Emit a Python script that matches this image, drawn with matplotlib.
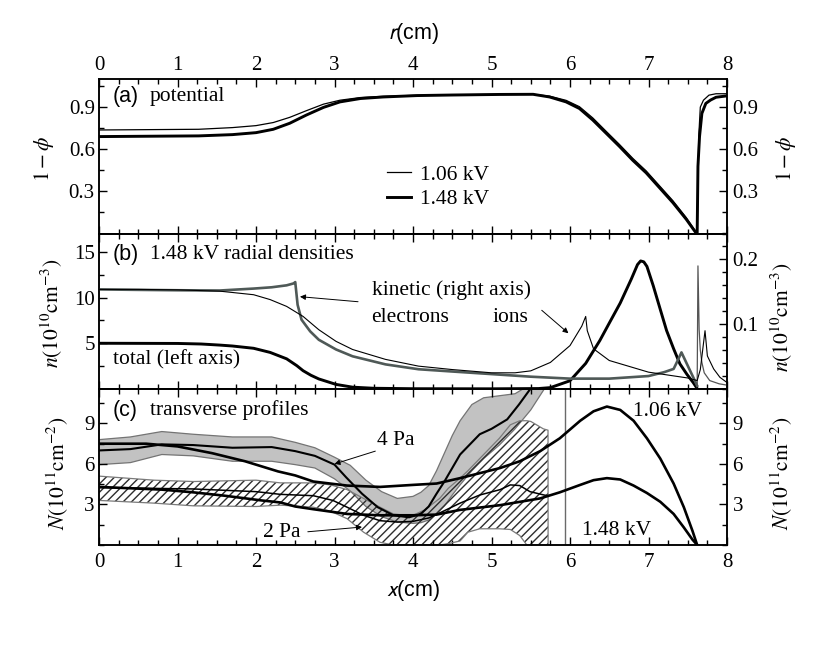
import matplotlib
matplotlib.use('Agg')
import matplotlib.pyplot as plt
from matplotlib.ticker import MultipleLocator, FixedLocator

plt.rcParams['font.family'] = ['Liberation Serif', 'DejaVu Serif']
plt.rcParams['mathtext.fontset'] = 'stix'
plt.rcParams['axes.linewidth'] = 1.1
plt.rcParams['hatch.linewidth'] = 1.0

# ---------------- panel (a): potential ----------------
pa_x_106 = [0, 1.27, 1.7, 2.0, 2.22, 2.43, 2.64, 2.86, 3.07, 3.33, 3.62, 4.05, 4.5, 5.1, 5.53,
            5.74, 5.95, 6.12, 6.29, 6.46, 6.63, 6.8, 6.97, 7.14, 7.31, 7.48, 7.6, 7.62,
            7.63, 7.64, 7.66, 7.7, 7.77, 7.86, 8.0]
pa_y_106 = [0.737, 0.742, 0.754, 0.768, 0.79, 0.827, 0.874, 0.921, 0.949, 0.968, 0.977, 0.984, 0.988, 0.99, 0.991,
            0.978, 0.948, 0.903, 0.823, 0.728, 0.634, 0.535, 0.446, 0.34, 0.234, 0.114, 0.016, 0.0,
            0.35, 0.69, 0.9, 0.949, 0.985, 0.995, 0.995]
pa_x_148 = [0, 1.27, 1.7, 2.0, 2.22, 2.43, 2.64, 2.86, 3.07, 3.33, 3.62, 4.05, 4.5, 5.1, 5.53,
            5.74, 5.95, 6.12, 6.29, 6.46, 6.63, 6.8, 6.97, 7.14, 7.31, 7.48, 7.6, 7.62,
            7.63, 7.65, 7.68, 7.73, 7.79, 7.86, 8.0]
pa_y_148 = [0.69, 0.695, 0.704, 0.718, 0.742, 0.785, 0.843, 0.898, 0.937, 0.961, 0.972, 0.982, 0.986, 0.99, 0.991,
            0.972, 0.937, 0.89, 0.808, 0.714, 0.62, 0.521, 0.432, 0.326, 0.22, 0.102, 0.008, 0.0,
            0.478, 0.69, 0.855, 0.926, 0.95, 0.97, 0.98]
pa_labels = ['1.06 kV', '1.48 kV']

# ---------------- panel (b): radial densities ----------------
pb_x_tot = [0, 1.0, 1.3, 1.54, 1.7, 1.97, 2.18, 2.39, 2.52, 2.6, 2.7, 2.8, 3.02, 3.23, 3.5, 4.0, 5.0,
            5.6, 5.75, 6.0, 6.2, 6.38, 6.5, 6.64, 6.78, 6.86, 6.9, 6.94, 6.98, 7.06, 7.15, 7.23, 7.32, 7.4, 7.49, 7.57, 7.62]
pb_y_tot = [5.0, 4.98, 4.92, 4.8, 4.7, 4.45, 4.0, 3.3, 2.55, 2.0, 1.5, 1.1, 0.5, 0.2, 0.08, 0.03, 0.02,
            0.05, 0.15, 0.9, 2.8, 5.3, 7.2, 9.4, 12.0, 13.6, 14.0, 13.9, 13.4, 11.3, 8.7, 6.4, 4.4, 2.75, 1.6, 0.7, 0.05]
pb_x_el = [0, 0.5, 1.0, 1.54, 1.97, 2.2, 2.39, 2.48, 2.5, 2.53, 2.58, 2.69, 2.8, 3.02, 3.23, 3.65, 4.07,
           4.5, 5.0, 5.5, 6.0, 6.5, 7.0, 7.2, 7.32, 7.36, 7.42, 7.49, 7.57, 7.62]
pb_y_el = [0.1537, 0.153, 0.1524, 0.152, 0.155, 0.157, 0.16, 0.163, 0.165, 0.130, 0.107, 0.089, 0.076, 0.061, 0.0505, 0.038, 0.0305,
           0.027, 0.023, 0.019, 0.016, 0.016, 0.02, 0.026, 0.031, 0.041, 0.0565, 0.0385, 0.018, 0.005]
pb_x_el_spike = [7.62, 7.63, 7.645, 7.66, 7.68, 7.71, 7.78, 7.9, 8.0]
pb_y_el_spike = [0.005, 0.19, 0.092, 0.06, 0.041, 0.025, 0.013, 0.008, 0.006]
pb_x_ion = [0, 0.5, 1.0, 1.54, 1.97, 2.18, 2.39, 2.6, 2.8, 3.02, 3.23, 3.65, 4.07, 4.5, 5.0, 5.3, 5.5,
            5.75, 6.0, 6.15, 6.2, 6.22, 6.3, 6.5, 7.0, 7.5, 7.62, 7.66, 7.7, 7.72, 7.75, 7.83, 7.91, 8.0]
pb_y_ion = [0.1537, 0.1537, 0.153, 0.151, 0.1455, 0.138, 0.1275, 0.112, 0.0915, 0.0735, 0.061, 0.0457, 0.0353, 0.030, 0.025, 0.025, 0.028,
            0.041, 0.067, 0.097, 0.112, 0.09, 0.062, 0.044, 0.026, 0.017, 0.013, 0.03, 0.07, 0.09, 0.051, 0.031, 0.018, 0.01]

# ---------------- panel (c): transverse profiles ----------------
pc_x_4pa = [0, 0.4, 0.8, 1.2, 1.7, 2.2, 2.5, 2.75, 3.0, 3.2, 3.4, 3.6, 3.8, 4.0, 4.1, 4.2, 4.3, 4.4, 4.5,
            4.6, 4.75, 4.9, 5.1, 5.3, 5.5, 5.7]
pc_4pa_hi = [7.8, 8.0, 8.4, 8.2, 8.0, 8.0, 7.6, 7.2, 6.5, 5.9, 4.8, 3.95, 3.45, 3.6, 3.9, 4.4, 5.5, 6.8, 8.1,
             9.2, 10.4, 10.9, 11.05, 11.2, 11.9, 13.0]
pc_4pa_lo = [5.95, 6.1, 6.7, 6.6, 6.2, 6.2, 5.95, 5.7, 4.9, 4.0, 2.85, 2.1, 1.7, 1.6, 1.65, 1.85, 2.3, 2.9, 3.7,
             4.45, 5.5, 6.4, 7.4, 8.6, 10.0, 11.8]
pc_x_4pa_c = [0, 0.4, 0.8, 1.2, 1.7, 2.2, 2.5, 2.75, 3.0, 3.15, 3.35, 3.55, 3.75, 3.95, 4.1, 4.2, 4.3, 4.4,
              4.5, 4.6, 4.75, 4.85, 5.0, 5.1, 5.2, 5.35, 5.45, 5.55]
pc_4pa_c = [7.0, 7.1, 7.45, 7.4, 7.2, 7.25, 6.95, 6.6, 5.95, 5.0, 3.8, 2.8, 2.2, 2.05, 2.3, 2.85, 3.8, 4.7,
            5.7, 6.7, 7.6, 8.2, 8.6, 8.95, 9.3, 10.4, 11.2, 12.0]
pc_x_2pa = [0, 0.7, 1.2, 2.0, 2.31, 2.73, 2.95, 3.16, 3.37, 3.58, 3.75, 3.9, 4.0, 4.15, 4.34, 4.45, 4.6,
            4.7, 4.85, 5.1, 5.24, 5.36, 5.45, 5.5, 5.66, 5.72, 5.721]
pc_2pa_hi = [5.1, 4.8, 4.7, 4.8, 4.6, 4.6, 4.45, 4.1, 3.45, 2.8, 2.3, 2.2, 2.2, 2.6, 3.45, 4.2, 4.95,
             5.5, 6.4, 7.9, 8.9, 9.2, 9.2, 9.15, 8.6, 8.5, 0.0]
pc_2pa_lo = [3.3, 3.1, 2.9, 2.85, 2.95, 2.8, 2.5, 1.95, 0.95, 0.2, 0.0, 0.0, 0.0, 0.0, 0.0, 0.1, 0.3,
             0.95, 1.2, 1.2, 1.15, 0.7, 0.0, 0.0, 0.0, 0.0, 0.0]
pc_x_2pa_c = [0, 0.6, 1.2, 2.0, 2.31, 2.73, 2.98, 3.16, 3.37, 3.58, 3.8, 4.0, 4.2, 4.35, 4.6, 4.85, 5.11,
              5.24, 5.36, 5.49, 5.67, 5.72]
pc_2pa_c = [4.25, 4.2, 4.15, 3.95, 3.75, 3.65, 3.3, 2.8, 2.2, 1.8, 1.7, 1.75, 2.0, 2.4, 3.1, 3.7, 4.1,
            4.45, 4.4, 3.95, 3.7, 3.65]
pc_x_106 = [0, 0.6, 1.0, 1.44, 1.86, 2.28, 2.5, 2.73, 3.16, 3.58, 4.0, 4.3, 4.6, 5.11, 5.36, 5.62, 5.87,
            6.13, 6.3, 6.47, 6.64, 6.81, 6.98, 7.15, 7.32, 7.45, 7.56, 7.62]
pc_y_106 = [7.5, 7.5, 7.3, 6.8, 6.2, 5.45, 5.15, 4.7, 4.4, 4.3, 4.45, 4.55, 4.95, 5.7, 6.2, 6.95, 7.9,
            9.2, 9.9, 10.25, 10.0, 9.2, 7.9, 6.4, 4.55, 2.8, 1.05, 0.0]
pc_x_148 = [0, 0.8, 1.2, 1.6, 2.07, 2.31, 2.5, 2.73, 3.16, 3.58, 4.0, 4.3, 4.6, 5.11, 5.62, 5.87, 6.13,
            6.3, 6.47, 6.64, 6.81, 6.98, 7.15, 7.32, 7.45, 7.56, 7.62]
pc_y_148 = [4.3, 4.1, 3.9, 3.65, 3.3, 3.15, 2.85, 2.65, 2.3, 2.2, 2.2, 2.25, 2.6, 2.95, 3.45, 3.9, 4.45,
            4.8, 4.95, 4.85, 4.4, 3.85, 3.2, 2.3, 1.3, 0.4, 0.0]
pc_vline_x = 5.94

# ---------------- figure ----------------
fig = plt.figure(figsize=(8.26, 6.49), dpi=100)
L, W = 99 / 826, 628 / 826


def rect(top, bot):
    return [L, 1 - bot / 649, W, (bot - top) / 649]


ax_a = fig.add_axes(rect(79, 233.5))
ax_b = fig.add_axes(rect(233.5, 389))
ax_c = fig.add_axes(rect(389, 545))

TS = 15      # tick label size
FS = 15.5    # text size
sans = ['Liberation Sans', 'DejaVu Sans']


def style_x(ax):
    ax.set_xlim(0, 8)
    ax.xaxis.set_major_locator(MultipleLocator(1))
    ax.xaxis.set_minor_locator(MultipleLocator(0.25))
    ax.tick_params(axis='x', which='both', direction='in', top=True, bottom=True,
                   labelbottom=False, labeltop=False, width=1.0, labelsize=TS, pad=6)
    ax.tick_params(axis='x', which='major', length=6)
    ax.tick_params(axis='x', which='minor', length=3.5)


def style_y(ax, side, major, minor):
    ax.yaxis.set_major_locator(FixedLocator(major))
    ax.yaxis.set_minor_locator(MultipleLocator(minor))
    ax.tick_params(axis='y', which='both', direction='in', width=1.0, labelsize=TS,
                   pad=3 if side == 'left' else 4)
    ax.tick_params(axis='y', which='major', length=6)
    ax.tick_params(axis='y', which='minor', length=3.5)


# ----- panel (a)
ax_a2 = ax_a.twinx()
for ax in (ax_a, ax_a2):
    ax.set_ylim(0, 1.1)
style_x(ax_a)
ax_a.tick_params(axis='x', labeltop=True, pad=3)
ax_a.xaxis.set_label_position('top')
ax_a.set_xlabel(r'$r$(cm)', fontsize=FS, family=sans, math_fontfamily='stixsans', labelpad=12)
style_y(ax_a, 'left', [0.3, 0.6, 0.9], 0.15)
style_y(ax_a2, 'right', [0.3, 0.6, 0.9], 0.15)
ax_a.plot(pa_x_106, pa_y_106, color='black', lw=0.9, label=pa_labels[0])
ax_a.plot(pa_x_148, pa_y_148, color='black', lw=2.1, label=pa_labels[1])
ax_a.legend(loc='center left', bbox_to_anchor=(0.458, 0.30), frameon=False, fontsize=FS,
            handlelength=1.15, handletextpad=0.4, labelspacing=0.2, borderpad=0, borderaxespad=0)
ax_a.text(0.022, 0.885, '(a)', transform=ax_a.transAxes, fontsize=FS, family=sans, va='center')
ax_a.text(0.081, 0.885, 'potential', transform=ax_a.transAxes, fontsize=FS, va='center')
ax_a.text(-0.088, 0.485, r'$1-\phi$', transform=ax_a.transAxes, fontsize=FS, rotation=90,
          ha='center', va='center')
ax_a2.text(1.094, 0.485, r'$1-\phi$', transform=ax_a2.transAxes, fontsize=FS, rotation=90,
           ha='center', va='center')

# ----- panel (b)
ax_b2 = ax_b.twinx()
ax_b.set_ylim(0, 17)
ax_b2.set_ylim(0, 0.24)
style_x(ax_b)
style_y(ax_b, 'left', [5, 10, 15], 2.5)
style_y(ax_b2, 'right', [0.1, 0.2], 0.02)
ax_b.plot(pb_x_tot, pb_y_tot, color='black', lw=2.1, zorder=3)
ax_b2.plot(pb_x_el, pb_y_el, color='#4f5957', lw=1.9, zorder=2)
ax_b2.plot(pb_x_el_spike, pb_y_el_spike, color='#555555', lw=0.9, zorder=2)
ax_b2.plot(pb_x_ion, pb_y_ion, color='black', lw=0.8, zorder=3)
ax_b.text(0.022, 0.862, '(b)', transform=ax_b.transAxes, fontsize=FS, family=sans, va='center')
ax_b.text(0.081, 0.862, '1.48 kV radial densities', transform=ax_b.transAxes, fontsize=FS, va='center')
ax_b.text(0.022, 0.186, 'total (left axis)', transform=ax_b.transAxes, fontsize=FS, va='center')
ax_b.text(0.434, 0.633, 'kinetic (right axis)', transform=ax_b.transAxes, fontsize=FS, va='center')
ax_b.text(0.434, 0.46, 'electrons', transform=ax_b.transAxes, fontsize=FS, va='center')
ax_b.text(0.626, 0.46, 'ions', transform=ax_b.transAxes, fontsize=FS, va='center')
arw = dict(arrowstyle='-|>', color='black', lw=0.7, mutation_scale=8, shrinkA=0, shrinkB=0)
ax_b2.annotate('', xy=(2.56, 0.1425), xytext=(3.30, 0.1347), arrowprops=arw)
ax_b2.annotate('', xy=(5.98, 0.086), xytext=(5.64, 0.1215), arrowprops=arw)
ax_b.text(-0.0756, 0.486, r'$n(10^{10}\mathrm{cm}^{-3})$', transform=ax_b.transAxes, fontsize=FS,
          rotation=90, ha='center', va='center')
ax_b2.text(1.088, 0.46, r'$n(10^{10}\mathrm{cm}^{-3})$', transform=ax_b2.transAxes, fontsize=FS,
           rotation=90, ha='center', va='center')

# ----- panel (c)
ax_c2 = ax_c.twinx()
for ax in (ax_c, ax_c2):
    ax.set_ylim(0, 11.55)
style_x(ax_c)
ax_c.tick_params(axis='x', labelbottom=True, pad=6)
ax_c.set_xlabel(r'$x$(cm)', fontsize=FS, family=sans, math_fontfamily='stixsans', labelpad=4)
style_y(ax_c, 'left', [3, 6, 9], 1.5)
style_y(ax_c2, 'right', [3, 6, 9], 1.5)
ax_c.fill_between(pc_x_4pa, pc_4pa_lo, pc_4pa_hi, facecolor='#c2c2c2', edgecolor='none', zorder=1)
ax_c.plot(pc_x_4pa, pc_4pa_hi, color='#747474', lw=0.9, zorder=1.1)
ax_c.plot(pc_x_4pa, pc_4pa_lo, color='#747474', lw=0.9, zorder=1.1)
ax_c.fill_between(pc_x_2pa, pc_2pa_lo, pc_2pa_hi, facecolor='none', edgecolor='#2e2e2e',
                  hatch='////', linewidth=0, zorder=1.5)
ax_c.plot(pc_x_2pa, pc_2pa_hi, color='#7a7a7a', lw=0.9, zorder=1.6)
ax_c.plot(pc_x_2pa, pc_2pa_lo, color='#7a7a7a', lw=0.9, zorder=1.6)
ax_c.axvline(pc_vline_x, color='#6a6a6a', lw=1.0, zorder=1.7)
ax_c.plot(pc_x_4pa_c, pc_4pa_c, color='black', lw=1.5, zorder=3)
ax_c.plot(pc_x_2pa_c, pc_2pa_c, color='black', lw=1.1, zorder=3)
ax_c.plot(pc_x_106, pc_y_106, color='black', lw=1.9, zorder=3)
ax_c.plot(pc_x_148, pc_y_148, color='black', lw=1.9, zorder=3)
ax_c.text(0.022, 0.862, '(c)', transform=ax_c.transAxes, fontsize=FS, family=sans, va='center')
ax_c.text(0.081, 0.862, 'transverse profiles', transform=ax_c.transAxes, fontsize=FS, va='center')
ax_c.text(0.443, 0.667, '4 Pa', transform=ax_c.transAxes, fontsize=FS, va='center')
ax_c.text(0.261, 0.077, '2 Pa', transform=ax_c.transAxes, fontsize=FS, va='center')
ax_c.text(0.850, 0.853, '1.06 kV', transform=ax_c.transAxes, fontsize=FS, va='center')
ax_c.text(0.769, 0.09, '1.48 kV', transform=ax_c.transAxes, fontsize=FS, va='center')
ax_c.annotate('', xy=(3.0, 6.0), xytext=(3.52, 6.95), arrowprops=arw, zorder=4)
ax_c.annotate('', xy=(3.35, 1.33), xytext=(2.66, 0.98), arrowprops=arw, zorder=4)
ax_c.text(-0.066, 0.46, r'$N(10^{11}\mathrm{cm}^{-2})$', transform=ax_c.transAxes, fontsize=FS,
          rotation=90, ha='center', va='center')
ax_c2.text(1.088, 0.46, r'$N(10^{11}\mathrm{cm}^{-2})$', transform=ax_c2.transAxes, fontsize=FS,
           rotation=90, ha='center', va='center')

fig.savefig('out.png', dpi=100)
